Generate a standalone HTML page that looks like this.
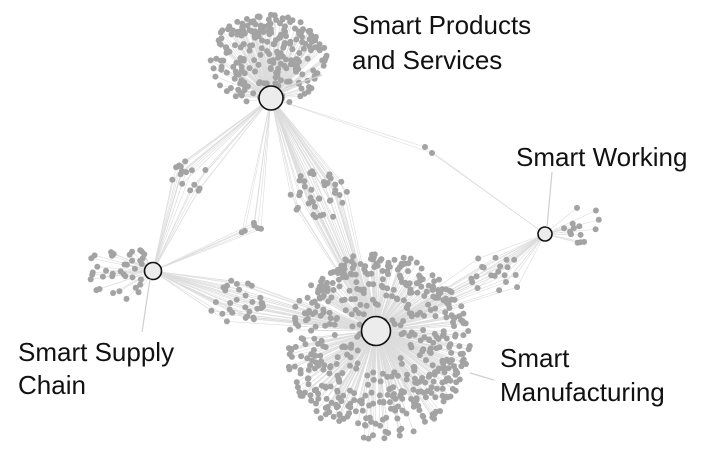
<!DOCTYPE html>
<html><head><meta charset="utf-8">
<style>
html,body{margin:0;padding:0;background:#fff;width:708px;height:452px;overflow:hidden}
svg{display:block}
text{font-family:"Liberation Sans",sans-serif;font-size:26px;fill:#111}
</style></head><body>
<svg id="s" width="708" height="452" viewBox="0 0 708 452">
<g id="edges" stroke="#dcdcdc" stroke-width="0.6" fill="none"></g>
<g id="dots" fill="#a3a3a3"></g>
<g id="hubs" fill="#ececec" stroke="#111" stroke-width="1.6">
<circle cx="271" cy="98" r="12"/>
<circle cx="545" cy="234" r="7"/>
<circle cx="153" cy="271" r="8.5"/>
<circle cx="376" cy="331" r="14.5"/>
</g>
<g stroke="#cfcfcf" stroke-width="1.2">
<line x1="552" y1="172" x2="547" y2="227"/>
<line x1="150" y1="279" x2="142" y2="332"/>
<line x1="470" y1="373" x2="494" y2="380"/>
<line x1="285" y1="88" x2="322" y2="75"/>
</g>
<text x="352" y="34">Smart Products</text>
<text x="352" y="69">and Services</text>
<text x="516" y="166">Smart Working</text>
<text x="18" y="361">Smart Supply</text>
<text x="18" y="394">Chain</text>
<text x="500" y="367">Smart</text>
<text x="500" y="401">Manufacturing</text>
</svg>
<script>
var seed=7;function r(){seed=(seed*16807)%2147483647;return (seed-1)/2147483646;}
var E=document.getElementById('edges'),D=document.getElementById('dots');
var ns='http://www.w3.org/2000/svg';
var H={P:[271,98],W:[545,234],S:[153,271],M:[376,331]};
function add(x,y,hubs){
  hubs.forEach(function(h){var l=document.createElementNS(ns,'line');
  l.setAttribute('x1',H[h][0]);l.setAttribute('y1',H[h][1]);l.setAttribute('x2',x);l.setAttribute('y2',y);E.appendChild(l);});
  var c=document.createElementNS(ns,'circle');c.setAttribute('cx',x.toFixed(1));c.setAttribute('cy',y.toFixed(1));c.setAttribute('r',3);D.appendChild(c);
}
function disk(n,cx,cy,rx,ry,hubs,p){p=p||0.6;for(var i=0;i<n;i++){var a=r()*6.283,d=Math.pow(r(),p);add(cx+Math.cos(a)*rx*d,cy+Math.sin(a)*ry*d,hubs);}}
disk(240,267,60,60,46,['P'],0.45);
(function(){for(var i=0;i<520;i++){var a=r()*6.283,d=0.2+0.8*Math.pow(r(),0.5);add(378+Math.cos(a)*92*d,346+Math.sin(a)*94*d,['M']);}})();
disk(40,320,195,30,25,['P','M']);
disk(15,190,177,20,17,['P','S']);
disk(40,120,272,36,28,['S'],0.6);
disk(30,237,305,28,25,['S','M']);
disk(20,495,275,28,22,['W','M']);
disk(14,583,225,28,20,['W']);
disk(6,250,230,12,8,['S','P']);
add(425,147,['P','W']);add(432,153,['P','W']);
</script>
</body></html>
